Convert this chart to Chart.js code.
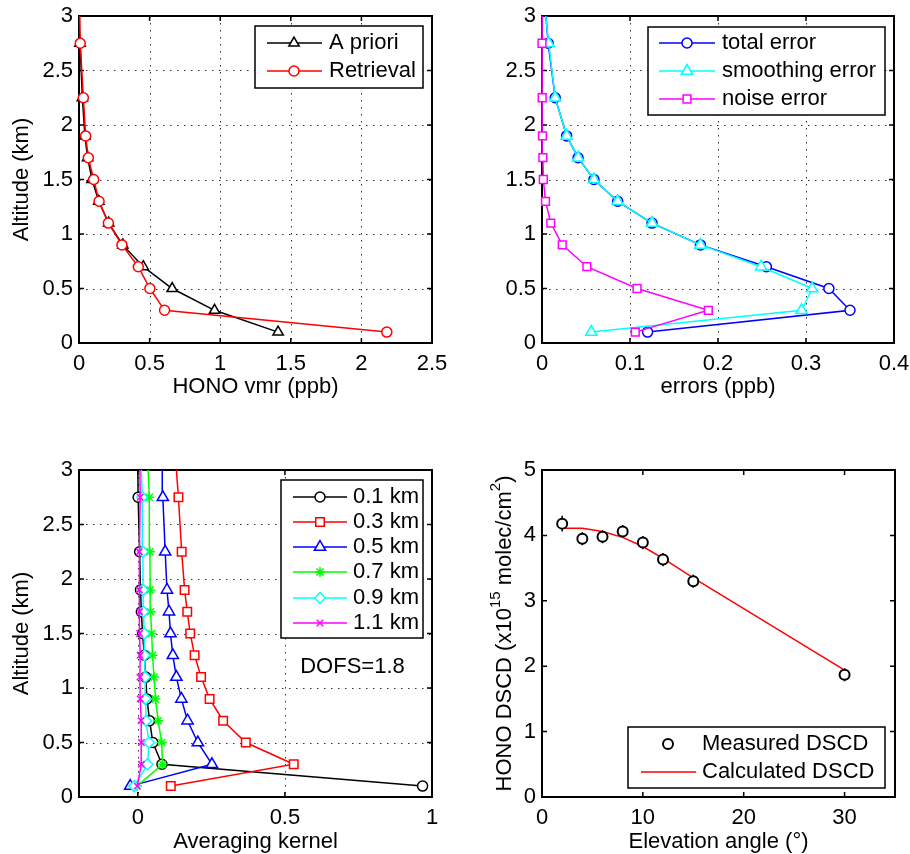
<!DOCTYPE html>
<html>
<head>
<meta charset="utf-8">
<title>HONO retrieval</title>
<script src="https://cdn.jsdelivr.net/npm/chart.js@4.4.0/dist/chart.umd.min.js"></script>
<style>
  body { margin: 0; background: #fff; }
  .panel { position: absolute; width: 455px; height: 427px; }
</style>
</head>
<body>
<div class="panel" style="left:0;top:0"><canvas id="vmrChart" width="455" height="427"></canvas></div>
<div class="panel" style="left:455px;top:0"><canvas id="errorChart" width="455" height="427"></canvas></div>
<div class="panel" style="left:0;top:427px"><canvas id="akChart" width="455" height="427"></canvas></div>
<div class="panel" style="left:455px;top:427px"><canvas id="dscdChart" width="455" height="427"></canvas></div>
<script>
// retrieval layers (km) - the 3.25 km layer sits above the plotted range
const altitudes = [0.1, 0.3, 0.5, 0.7, 0.9, 1.1, 1.3, 1.5, 1.7, 1.9, 2.25, 2.75, 3.25];

// HONO vmr profiles (ppb)
const aprioriVmr   = [1.41, 0.96, 0.66, 0.455, 0.31, 0.21, 0.14, 0.092, 0.061, 0.042, 0.024, 0.007, 0.002];
const retrievalVmr = [2.18, 0.606, 0.502, 0.42, 0.304, 0.208, 0.142, 0.104, 0.066, 0.047, 0.031, 0.009, 0.002];

// error profiles (ppb)
const totalError     = [0.12, 0.35, 0.326, 0.255, 0.18, 0.125, 0.086, 0.059, 0.041, 0.028, 0.015, 0.007, 0.002];
const smoothingError = [0.056, 0.295, 0.307, 0.249, 0.18, 0.125, 0.086, 0.059, 0.041, 0.028, 0.015, 0.0076, 0.001];
const noiseError     = [0.106, 0.189, 0.108, 0.051, 0.023, 0.01, 0.004, 0.0015, 0.001, 0.0005, 0.0002, 0, 0];

// averaging kernel rows
const ak01 = [0.968, 0.082, 0.051, 0.04, 0.031, 0.027, 0.022, 0.016, 0.012, 0.009, 0.006, 0.001, -0.001];
const ak03 = [0.112, 0.53, 0.367, 0.29, 0.244, 0.215, 0.193, 0.178, 0.168, 0.159, 0.149, 0.138, 0.124];
const ak05 = [-0.026, 0.252, 0.204, 0.169, 0.148, 0.131, 0.119, 0.111, 0.106, 0.099, 0.093, 0.085, 0.083];
const ak07 = [-0.003, 0.084, 0.081, 0.069, 0.06, 0.055, 0.05, 0.047, 0.043, 0.042, 0.041, 0.039, 0.031];
const ak09 = [-0.012, 0.033, 0.038, 0.028, 0.026, 0.025, 0.023, 0.022, 0.019, 0.018, 0.017, 0.015, 0.009];
const ak11 = [-0.002, 0.012, 0.012, 0.011, 0.008, 0.007, 0.008, 0.006, 0.006, 0.005, 0.005, 0.008, 0.006];
const dofsText = 'DOFS=1.8';

// DSCD vs elevation angle (x10^15 molec/cm2)
const elevAngles     = [2, 4, 6, 8, 10, 12, 15, 30];
const measuredDscd   = [4.18, 3.95, 3.98, 4.06, 3.89, 3.63, 3.30, 1.87];
const measuredErr    = [0.12, 0.1, 0.1, 0.1, 0.1, 0.1, 0.1, 0.1];
const calculatedDscd = [4.11, 4.11, 4.06, 3.97, 3.83, 3.65, 3.35, 1.94];

// tick labels
const altTicks   = [0, 0.5, 1, 1.5, 2, 2.5, 3];
const vmrTicks   = [0, 0.5, 1, 1.5, 2, 2.5];
const errTicks   = [0, 0.1, 0.2, 0.3, 0.4];
const akTicks    = [0, 0.5, 1];
const elevTicks  = [0, 10, 20, 30];
const dscdTicks  = [0, 1, 2, 3, 4, 5];

const FONT = "'Liberation Sans', Arial, Helvetica, sans-serif";

function profile(label, values, color, pointStyle, radius) {
    return {
        label: label,
        data: values.map((v, i) => ({ x: v, y: altitudes[i] })),
        showLine: true,
        borderColor: color,
        borderWidth: 1.5,
        pointStyle: pointStyle,
        pointRadius: radius,
        pointBorderColor: color,
        pointBackgroundColor: '#fff',
        pointBorderWidth: 1.5,
        clip: { left: 12, right: 12, top: 0, bottom: 12 }
    };
}

// later series drawn on top, like the original plot
function stackOrder(datasets) {
    datasets.forEach((d, i) => { d.order = datasets.length - i; });
    return datasets;
}

function axis(min, max, ticks, size, title, titlePad, horizontal) {
    return {
        type: 'linear',
        min: min,
        max: max,
        afterBuildTicks: s => { s.ticks = ticks.map(v => ({ value: v })); },
        afterFit: s => {
            // fixed box, labels may overhang the plot edges
            if (horizontal) { s.height = size; s.paddingLeft = 0; s.paddingRight = 0; }
            else { s.width = size; s.paddingTop = 0; s.paddingBottom = 0; }
        },
        grid: { display: false, drawTicks: false },
        border: { display: false },
        ticks: {
            color: '#000',
            font: { size: 22, family: FONT },
            padding: horizontal ? 8 : 6,
            maxRotation: 0,
            autoSkip: false,
            callback: v => String(v)
        },
        title: {
            display: !!title,
            text: title,
            color: '#000',
            font: { size: 22, family: FONT, lineHeight: 1 },
            padding: horizontal ? { top: 0, bottom: titlePad } : { top: titlePad, bottom: 0 }
        }
    };
}

// dotted grid, black box and inward ticks
const frame = {
    id: 'frame',
    beforeDatasetsDraw(chart, args, opts) {
        const { ctx, chartArea: a } = chart;
        const x = chart.scales.x, y = chart.scales.y;
        ctx.save();
        if (opts.grid) {
            ctx.strokeStyle = '#333';
            ctx.lineWidth = 1;
            ctx.setLineDash([1.5, 5.5]);
            x.ticks.forEach(t => {
                const px = Math.round(x.getPixelForValue(t.value)) + 0.5;
                if (px < a.left + 2 || px > a.right - 2) return;
                ctx.beginPath(); ctx.moveTo(px, a.top); ctx.lineTo(px, a.bottom); ctx.stroke();
            });
            y.ticks.forEach(t => {
                const py = Math.round(y.getPixelForValue(t.value)) + 0.5;
                if (py < a.top + 2 || py > a.bottom - 2) return;
                ctx.beginPath(); ctx.moveTo(a.left, py); ctx.lineTo(a.right, py); ctx.stroke();
            });
            ctx.setLineDash([]);
        }
        ctx.strokeStyle = '#000';
        ctx.lineWidth = 1.5;
        const len = 5;
        x.ticks.forEach(t => {
            const px = x.getPixelForValue(t.value);
            ctx.beginPath();
            ctx.moveTo(px, a.bottom); ctx.lineTo(px, a.bottom - len);
            ctx.moveTo(px, a.top); ctx.lineTo(px, a.top + len);
            ctx.stroke();
        });
        y.ticks.forEach(t => {
            const py = y.getPixelForValue(t.value);
            ctx.beginPath();
            ctx.moveTo(a.left, py); ctx.lineTo(a.left + len, py);
            ctx.moveTo(a.right, py); ctx.lineTo(a.right - len, py);
            ctx.stroke();
        });
        ctx.lineWidth = 2;
        ctx.strokeRect(a.left, a.top, a.right - a.left, a.bottom - a.top);
        ctx.restore();
    }
};

// MATLAB style legend box inside the axes
const boxLegend = {
    id: 'boxLegend',
    afterDraw(chart, args, o) {
        if (!o.rows) return;
        const ctx = chart.ctx;
        ctx.save();
        ctx.fillStyle = '#fff';
        ctx.fillRect(o.left, o.top, o.right - o.left, o.bottom - o.top);
        ctx.strokeStyle = '#000';
        ctx.lineWidth = 1.5;
        ctx.strokeRect(o.left, o.top, o.right - o.left, o.bottom - o.top);
        chart.data.datasets.forEach((ds, i) => {
            const yy = o.rows[i];
            if (ds.showLine !== false) {
                ctx.strokeStyle = ds.borderColor;
                ctx.lineWidth = ds.borderWidth;
                ctx.beginPath(); ctx.moveTo(o.lineFrom, yy); ctx.lineTo(o.lineTo, yy); ctx.stroke();
            }
            if (ds.pointRadius > 0) {
                ctx.strokeStyle = ds.pointBorderColor;
                ctx.fillStyle = ds.pointBackgroundColor;
                ctx.lineWidth = ds.pointBorderWidth;
                Chart.helpers.drawPoint(ctx, {
                    pointStyle: ds.pointStyle, radius: ds.pointRadius,
                    borderWidth: ds.pointBorderWidth, rotation: 0
                }, o.mark, yy);
            }
            ctx.fillStyle = '#000';
            ctx.font = '22px ' + FONT;
            ctx.textAlign = 'left';
            ctx.textBaseline = 'middle';
            ctx.fillText(ds.label, o.text, yy);
        });
        ctx.restore();
    }
};

// free text placed at a data position
const note = {
    id: 'note',
    afterDatasetsDraw(chart, args, o) {
        if (!o.text) return;
        const ctx = chart.ctx;
        ctx.save();
        ctx.fillStyle = '#000';
        ctx.font = '22px ' + FONT;
        ctx.textAlign = 'left';
        ctx.textBaseline = 'middle';
        ctx.fillText(o.text, chart.scales.x.getPixelForValue(o.x), chart.scales.y.getPixelForValue(o.y));
        ctx.restore();
    }
};

// vertical error whiskers under the measured circles
const whiskers = {
    id: 'whiskers',
    beforeDatasetsDraw(chart, args, o) {
        if (!o.err) return;
        const ctx = chart.ctx, x = chart.scales.x, y = chart.scales.y;
        const pts = chart.data.datasets[0].data;
        ctx.save();
        ctx.strokeStyle = '#000';
        ctx.lineWidth = 1.5;
        pts.forEach((p, i) => {
            const px = x.getPixelForValue(p.x);
            ctx.beginPath();
            ctx.moveTo(px, y.getPixelForValue(p.y - o.err[i]));
            ctx.lineTo(px, y.getPixelForValue(p.y + o.err[i]));
            ctx.stroke();
        });
        ctx.restore();
    }
};

// y title with superscripts for the DSCD panel
const dscdTitle = {
    id: 'dscdTitle',
    afterDraw(chart, args, o) {
        if (!o.x) return;
        const ctx = chart.ctx, a = chart.chartArea;
        const parts = [['HONO DSCD (x10', 22, 0], ['15', 15, -9], [' molec/cm', 22, 0], ['2', 15, -9], [')', 22, 0]];
        ctx.save();
        ctx.translate(o.x, (a.top + a.bottom) / 2);
        ctx.rotate(-Math.PI / 2);
        ctx.fillStyle = '#000';
        ctx.textAlign = 'left';
        ctx.textBaseline = 'middle';
        let total = 0;
        parts.forEach(p => { ctx.font = p[1] + 'px ' + FONT; total += ctx.measureText(p[0]).width; });
        let cx = -total / 2;
        parts.forEach(p => {
            ctx.font = p[1] + 'px ' + FONT;
            ctx.fillText(p[0], cx, p[2]);
            cx += ctx.measureText(p[0]).width;
        });
        ctx.restore();
    }
};

function options(pad, x, y, plugins) {
    return {
        responsive: false,
        animation: false,
        events: [],
        layout: { padding: pad },
        scales: { x: x, y: y },
        plugins: Object.assign({ legend: { display: false }, tooltip: { enabled: false } }, plugins)
    };
}

const allPlugins = [frame, whiskers, note, boxLegend, dscdTitle];

// HONO vmr profile
new Chart(document.getElementById('vmrChart'), {
    type: 'scatter',
    data: { datasets: stackOrder([
        profile('A priori', aprioriVmr, '#000', 'triangle', 6),
        profile('Retrieval', retrievalVmr, '#f00', 'circle', 5)
    ]) },
    options: options({ left: 0, top: 16, right: 23, bottom: 0 },
        axis(0, 2.5, vmrTicks, 84, 'HONO vmr (ppb)', 29, true),
        axis(0, 3, altTicks, 79, 'Altitude (km)', 11, false),
        { frame: { grid: true },
          boxLegend: { left: 255, top: 26, right: 423, bottom: 88, lineFrom: 267, lineTo: 322, mark: 294, text: 329, rows: [43, 71] } }),
    plugins: allPlugins
});

// error profiles
new Chart(document.getElementById('errorChart'), {
    type: 'scatter',
    data: { datasets: stackOrder([
        profile('total error', totalError, '#0000ff', 'circle', 5),
        profile('smoothing error', smoothingError, '#00ffff', 'triangle', 6.5),
        profile('noise error', noiseError, '#ff00ff', 'rect', 5.5)
    ]) },
    options: options({ left: 0, top: 16, right: 16, bottom: 0 },
        axis(0, 0.4, errTicks, 84, 'errors (ppb)', 29, true),
        axis(0, 3, altTicks, 87, '', 0, false),
        { frame: { grid: true },
          boxLegend: { left: 193, top: 27, right: 430, bottom: 115, lineFrom: 204, lineTo: 260, mark: 232, text: 267, rows: [43, 71, 99] } }),
    plugins: allPlugins
});

// averaging kernels
new Chart(document.getElementById('akChart'), {
    type: 'scatter',
    data: { datasets: stackOrder([
        profile('0.1 km', ak01, '#000', 'circle', 5),
        profile('0.3 km', ak03, '#f00', 'rect', 6),
        profile('0.5 km', ak05, '#0000ff', 'triangle', 6.5),
        profile('0.7 km', ak07, '#00ff00', 'star', 5),
        profile('0.9 km', ak09, '#00ffff', 'rectRot', 5.5),
        profile('1.1 km', ak11, '#ff00ff', 'crossRot', 4.5)
    ]) },
    options: options({ left: 0, top: 43, right: 23, bottom: 0 },
        axis(-0.2, 1, akTicks, 57, 'Averaging kernel', 1, true),
        axis(0, 3, altTicks, 79, 'Altitude (km)', 11, false),
        { frame: { grid: true },
          note: { text: dofsText, x: 0.552, y: 1.19 },
          boxLegend: { left: 281, top: 53, right: 423, bottom: 211, lineFrom: 293, lineTo: 347, mark: 320, text: 353, rows: [70, 95, 120, 145, 171, 196] } }),
    plugins: allPlugins
});

// measured vs calculated DSCD
new Chart(document.getElementById('dscdChart'), {
    type: 'scatter',
    data: { datasets: [
        {
            label: 'Measured DSCD',
            data: elevAngles.map((v, i) => ({ x: v, y: measuredDscd[i] })),
            showLine: false,
            pointStyle: 'circle',
            pointRadius: 5,
            pointBorderColor: '#000',
            pointBackgroundColor: '#fff',
            pointBorderWidth: 2,
            order: 1
        },
        {
            label: 'Calculated DSCD',
            data: elevAngles.map((v, i) => ({ x: v, y: calculatedDscd[i] })),
            showLine: true,
            borderColor: '#f00',
            borderWidth: 1.5,
            pointRadius: 0,
            order: 2
        }
    ] },
    options: options({ left: 0, top: 43, right: 15, bottom: 0 },
        axis(0, 35, elevTicks, 57, 'Elevation angle (°)', 1, true),
        axis(0, 5, dscdTicks, 87, '', 0, false),
        { frame: { grid: false },
          whiskers: { err: measuredErr },
          dscdTitle: { x: 50 },
          boxLegend: { left: 173, top: 300, right: 430, bottom: 361, lineFrom: 186, lineTo: 241, mark: 213, text: 247, rows: [317, 345] } }),
    plugins: allPlugins
});
</script>
</body>
</html>
